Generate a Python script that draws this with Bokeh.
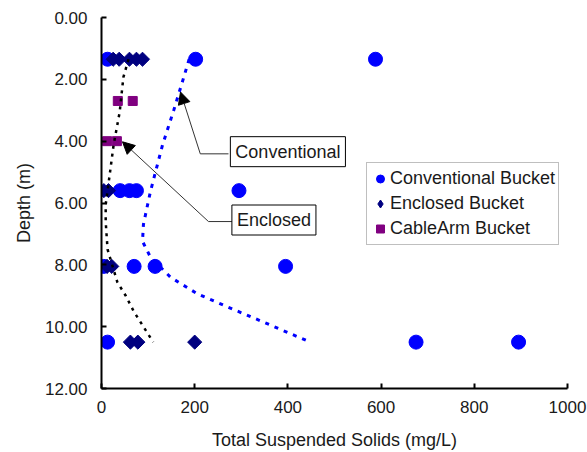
from bokeh.plotting import figure
from bokeh.models import (Range1d, FixedTicker, NumeralTickFormatter, Label, Arrow,
                          NormalHead, Legend, LegendItem)
from bokeh.embed import file_html
from bokeh.resources import INLINE

NAN = float("nan")

# ---------------- data ----------------
conv_tss = [13, 202, 588, 40, 60, 75, 295, 5, 70, 115, 395, 13, 675, 895]
conv_depth = [1.35, 1.35, 1.35, 5.6, 5.6, 5.6, 5.6, 8.05, 8.05, 8.05, 8.05, 10.5, 10.5, 10.5]

encl_tss = [25, 38, 60, 75, 88, 5, 15, 12, 22, 62, 78, 200]
encl_depth = [1.35, 1.35, 1.35, 1.35, 1.35, 5.6, 5.6, 8.05, 8.05, 10.5, 10.5, 10.5]

cable_tss = [35, 67, 12, 33]
cable_depth = [2.7, 2.7, 4.0, 4.0]

# trend lines
conv_trend_depth = [1.35, 1.96, 3.0, 4.12, 5.63, 6.69, 7.24, 7.75, 8.4, 8.94, 9.36, 9.81, 10.5]
conv_trend_tss = [188, 176, 155, 131, 105, 90, 88, 105, 148, 206, 270, 341, 448]
encl_trend_depth = [1.35, 1.93, 3.06, 4.12, 5.15, 6.05, 6.6, 7.5, 8.56, 9.0, 9.5, 10.5]
encl_trend_tss = [58, 47, 39, 26, 17, 9, 9, 13, 34, 52, 69, 111]

x_ticks = [0, 200, 400, 600, 800, 1000]
y_ticks = [0, 2, 4, 6, 8, 10, 12]

FONT = "Liberation Sans"
TXT = "#1a1a1a"

p = figure(width=587, height=452, output_backend="svg", toolbar_location=None,
           x_range=Range1d(0, 1000), y_range=Range1d(12, 0),
           min_border_left=101, min_border_right=20, min_border_top=17, min_border_bottom=62)
p.outline_line_color = None
p.grid.visible = False
p.background_fill_color = "white"
p.border_fill_color = "white"

for ax in (p.xaxis[0], p.yaxis[0]):
    ax.axis_line_width = 2
    ax.axis_line_color = "black"
    ax.major_tick_line_width = 2
    ax.major_tick_line_color = "black"
    ax.major_tick_in = 5
    ax.major_tick_out = 0
    ax.minor_tick_line_color = None
    ax.major_label_text_font = FONT
    ax.major_label_text_font_size = "17px"
    ax.major_label_text_color = TXT
    ax.axis_label_text_font = FONT
    ax.axis_label_text_font_size = "18px"
    ax.axis_label_text_font_style = "normal"
    ax.axis_label_text_color = TXT

p.xaxis[0].ticker = FixedTicker(ticks=x_ticks)
p.yaxis[0].ticker = FixedTicker(ticks=y_ticks)
p.yaxis[0].formatter = NumeralTickFormatter(format="0.00")
p.xaxis[0].axis_label = "Total Suspended Solids (mg/L)"
p.yaxis[0].axis_label = "Depth (m)"
p.xaxis[0].major_label_standoff = 12
p.xaxis[0].axis_label_standoff = 14
p.yaxis[0].major_label_standoff = 14
p.yaxis[0].axis_label_standoff = 8

# scatter series
r_conv = p.scatter(conv_tss, conv_depth, marker="circle", size=14, color="#0000FF")
r_encl = p.scatter(encl_tss, encl_depth, marker="square", size=10, angle=0.7854, color="#000080")
r_cable = p.scatter(cable_tss, cable_depth, marker="square", size=9, color="#800080")

# legend-only glyphs (not drawn on the plot: NaN positions)
lg_conv = p.scatter([NAN], [NAN], marker="circle", color="#0000FF")
lg_encl = p.scatter([NAN], [NAN], marker="diamond", color="#000080")
lg_cable = p.scatter([NAN], [NAN], marker="square", color="#800080")

# trend lines
p.line(conv_trend_tss, conv_trend_depth, line_color="#0000FF", line_width=3, line_dash="4 6")
p.line(encl_trend_tss, encl_trend_depth, line_color="black", line_width=2.5, line_dash="3 5")

# callouts
p.line([272.5, 212], [4.41, 4.41], line_color="#333333", line_width=1)
p.add_layout(Arrow(end=NormalHead(size=12, fill_color="black", line_color="black"),
                   x_start=212, y_start=4.41, x_end=169.5, y_end=2.41,
                   line_color="#333333", line_width=1))
p.line([281, 229.6], [6.6, 6.6], line_color="#333333", line_width=1)
p.add_layout(Arrow(end=NormalHead(size=12, fill_color="black", line_color="black"),
                   x_start=229.6, y_start=6.6, x_end=45, y_end=4.02,
                   line_color="#333333", line_width=1))

for txt, cx, cy in (("Conventional", 400, 4.34), ("Enclosed", 370, 6.55)):
    p.add_layout(Label(x=cx, y=cy, text=txt, anchor="center", x_offset=2, y_offset=-2,
                       text_alpha=0, text_font=FONT, text_font_size="18px",
                       border_line_color="#555555", background_fill_color="#555555",
                       padding=5))
    p.add_layout(Label(x=cx, y=cy, text=txt, anchor="center",
                       text_font=FONT, text_font_size="18px", text_color=TXT,
                       border_line_color="black", border_line_width=1,
                       background_fill_color="white", padding=5))

legend = Legend(items=[LegendItem(label="Conventional Bucket", renderers=[lg_conv]),
                       LegendItem(label="Enclosed Bucket", renderers=[lg_encl]),
                       LegendItem(label="CableArm Bucket", renderers=[lg_cable])],
                location=(265, 143))
legend.border_line_color = "#808080"
legend.border_line_width = 1
legend.background_fill_alpha = 1
legend.padding = 3
legend.margin = 0
legend.spacing = 0
legend.glyph_width = 20
legend.glyph_height = 25
legend.label_height = 25
legend.label_standoff = 0
legend.label_text_font = FONT
legend.label_text_font_size = "18px"
legend.label_text_color = TXT
p.add_layout(legend)

open("out.html", "w").write(file_html(p, INLINE))
